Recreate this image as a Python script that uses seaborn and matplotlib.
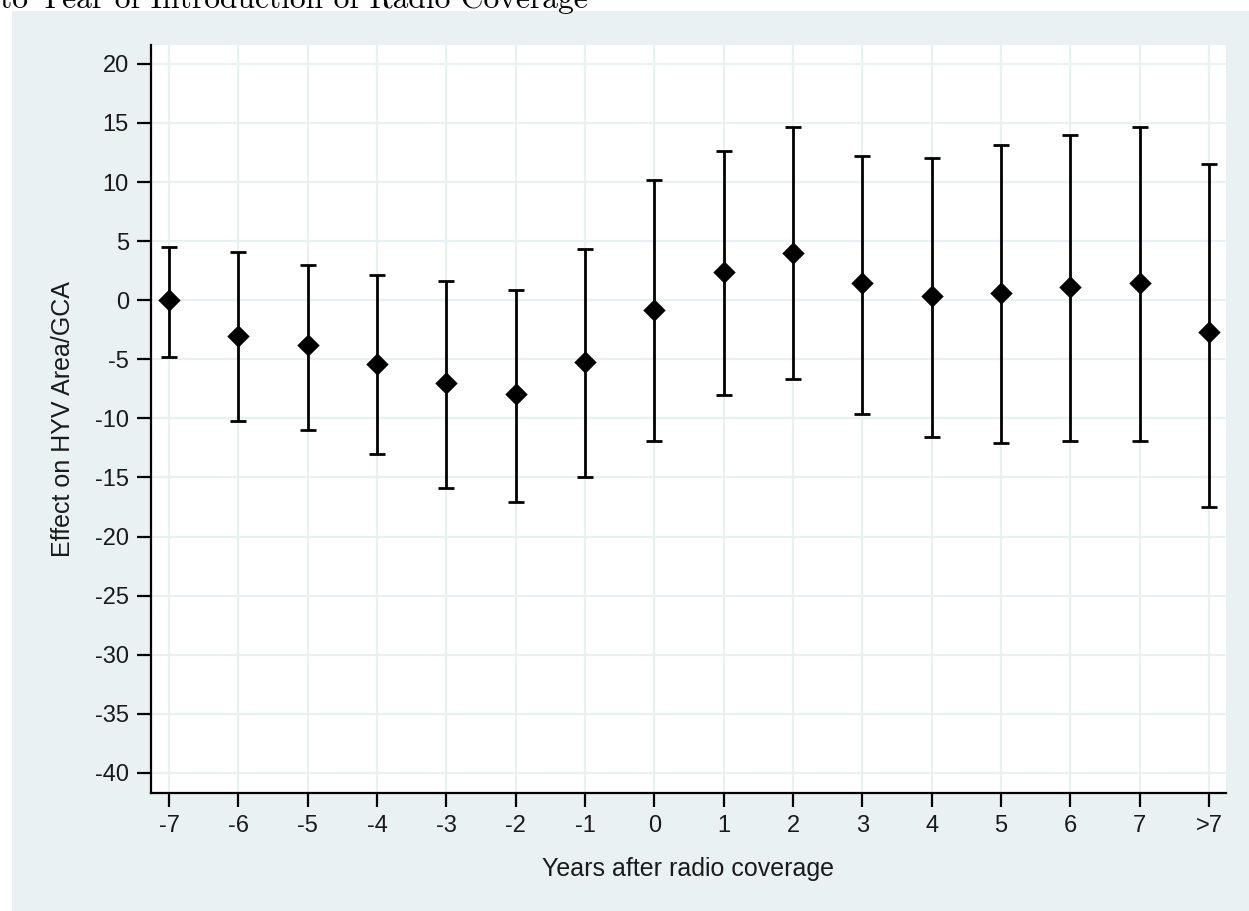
import matplotlib
matplotlib.use("Agg")
import matplotlib.pyplot as plt
import seaborn as sns
import pandas as pd
from matplotlib.patches import Rectangle

# ---- data ----
years = ["-7", "-6", "-5", "-4", "-3", "-2", "-1", "0", "1", "2", "3", "4", "5", "6", "7", ">7"]
estimate = [0.0, -3.0, -3.8, -5.4, -7.0, -7.9, -5.2, -0.8, 2.4, 4.0, 1.5, 0.4, 0.6, 1.1, 1.5, -2.7]
upper = [4.5, 4.1, 3.0, 2.1, 1.6, 0.9, 4.3, 10.2, 12.6, 14.7, 12.2, 12.0, 13.1, 14.0, 14.7, 11.5]
lower = [-4.8, -10.2, -11.0, -13.0, -15.9, -17.1, -15.0, -11.9, -8.0, -6.7, -9.6, -11.6, -12.1, -11.9, -11.9, -17.5]
yticks = [20, 15, 10, 5, 0, -5, -10, -15, -20, -25, -30, -35, -40]
title_text = "to Year of Introduction of Radio Coverage"
xlabel = "Years after radio coverage"
ylabel = "Effect on HYV Area/GCA"

df = pd.DataFrame({"year": years, "est": estimate, "lo": lower, "hi": upper})

sns.set_style("white")
plt.rcParams["font.family"] = ["Liberation Sans", "DejaVu Sans"]

W, H = 1249, 911
fig = plt.figure(figsize=(W / 100, H / 100), dpi=100)
fig.patch.set_facecolor("white")
panel_col = "#EAF1F3"
fig.patches.append(Rectangle((12 / W, 0), 1 - 12 / W, 1 - 11 / H, transform=fig.transFigure,
                             facecolor=panel_col, edgecolor="none", zorder=-10))

ax = fig.add_axes([151 / W, 1 - 793 / H, (1226 - 151) / W, (793 - 45) / H])
ax.set_zorder(1)
ax.set_facecolor("white")

# error bars
yerr = [[e - l for e, l in zip(df["est"], df["lo"])], [h - e for e, h in zip(df["est"], df["hi"])]]
ax.errorbar(x=list(range(len(years))), y=df["est"], yerr=yerr, fmt="none", ecolor="black",
            elinewidth=2.0, capsize=5.5, capthick=2.0, zorder=3)
sns.scatterplot(data=df.assign(pos=range(len(years))), x="pos", y="est", marker="D", s=130,
                color="black", edgecolor="black", linewidth=0, ax=ax, zorder=4, legend=False)

ax.set_xlim(-0.26, len(years) - 1 + 0.245)
ax.set_ylim(-41.7, 21.6)
ax.set_xticks(range(len(years)))
ax.set_xticklabels(years)
ax.set_yticks(yticks)
ax.set_yticklabels([str(t) for t in yticks])

ax.grid(True, color="#EAF1F3", linewidth=1.6, zorder=0)
ax.set_axisbelow(True)
for s in ["top", "right"]:
    ax.spines[s].set_visible(False)
for s in ["left", "bottom"]:
    ax.spines[s].set_color("black")
    ax.spines[s].set_linewidth(1.6)

ax.tick_params(axis="both", which="major", length=10, width=1.6, color="black",
               labelsize=17, labelcolor="#1a1a1a", pad=6, direction="out",
               left=True, bottom=True)
ax.set_xlabel(xlabel, fontsize=18, color="#1a1a1a", labelpad=14)
ax.set_ylabel(ylabel, fontsize=18, color="#1a1a1a", labelpad=14)

# truncated title at the very top (serif)
t = fig.text(0.0, 1 - 8.5 / H, title_text, fontsize=20, family=["cmr10", "DejaVu Serif"],
             ha="left", va="baseline", color="black", zorder=5)
fig.canvas.draw()
bb = t.get_window_extent()
t.set_fontsize(20 * 587 / bb.width)

fig.savefig("out.png", dpi=100, facecolor=fig.get_facecolor())
